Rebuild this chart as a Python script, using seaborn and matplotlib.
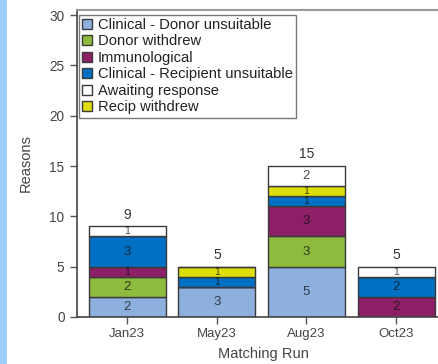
import matplotlib
matplotlib.use("Agg")
import matplotlib.pyplot as plt
from matplotlib.patches import Patch, Rectangle
import numpy as np
import pandas as pd
import seaborn as sns

# Matching runs and the reasons counted in each
runs = ["Jan23", "May23", "Aug23", "Oct23"]
donor_unsuitable = [2, 3, 5, 0]
donor_withdrew = [2, 0, 3, 0]
immunological = [1, 0, 3, 2]
recipient_unsuitable = [3, 1, 1, 2]
recip_withdrew = [0, 1, 1, 0]
awaiting_response = [1, 0, 2, 1]

# (label, values, colour) in stacking order, bottom to top
layers = [
    ("Clinical - Donor unsuitable", donor_unsuitable, "#8DB0DF"),
    ("Donor withdrew", donor_withdrew, "#8DBB3E"),
    ("Immunological", immunological, "#8C1F66"),
    ("Clinical - Recipient unsuitable", recipient_unsuitable, "#0070C4"),
    ("Recip withdrew", recip_withdrew, "#DEDE0A"),
    ("Awaiting response", awaiting_response, "#FFFFFF"),
]
legend_order = [
    "Clinical - Donor unsuitable",
    "Donor withdrew",
    "Immunological",
    "Clinical - Recipient unsuitable",
    "Awaiting response",
    "Recip withdrew",
]

sns.set_theme(style="white")
plt.rcParams["font.family"] = ["Liberation Sans", "DejaVu Sans"]

W, H = 438, 364
fig = plt.figure(figsize=(W / 100, H / 100), dpi=100)
fig.patch.set_facecolor("white")
# pale blue strip down the left edge of the panel
fig.patches.append(Rectangle((0, 0), 7 / W, 1, transform=fig.transFigure,
                             facecolor="#9DCFFD", edgecolor="none", zorder=0))

ax = fig.add_axes([77 / W, 47 / H, 372 / W, 307 / H])

edge = "#3a3a3a"
bottom = np.zeros(len(runs))
for label, vals, colour in layers:
    df = pd.DataFrame({"run": runs, "count": vals})
    sns.barplot(data=df, x="run", y="count", bottom=bottom, color=colour,
                saturation=1, width=0.86, edgecolor=edge, linewidth=1.0,
                errorbar=None, ax=ax)
    for i, v in enumerate(vals):
        if v > 0:
            ax.text(i, bottom[i] + v / 2, str(v), ha="center", va="center",
                    fontsize=9.5 if v > 1 else 7.5, color="#111111",
                    alpha=0.75, zorder=5)
    bottom = bottom + np.array(vals)

# totals above each bar
for i, t in enumerate(bottom):
    ax.text(i, t + 0.45, f"{int(t)}", ha="center", va="bottom",
            fontsize=10, color="#333333")

ax.set_xlim(-0.56, 3.59)
ax.set_ylim(0, 30.5)
ax.set_yticks([0, 5, 10, 15, 20, 25, 30])
ax.set_xlabel("Matching Run", fontsize=10.5, color="#444444", labelpad=5)
ax.set_ylabel("Reasons", fontsize=10.5, color="#444444", labelpad=12)
ax.tick_params(axis="both", which="both", direction="out", length=5, width=1,
               color="#555555", labelsize=9.8, labelcolor="#444444", pad=4,
               bottom=True, left=True)
ax.tick_params(axis="x", labelsize=9.5, pad=3)

for side in ["left", "bottom"]:
    ax.spines[side].set_color("#444444")
    ax.spines[side].set_linewidth(1.2)
ax.spines["top"].set_color("#9a9a9a")
ax.spines["top"].set_linewidth(1.5)
ax.spines["right"].set_visible(False)

colour_of = {lab: col for lab, _, col in layers}
handles = [Patch(facecolor=colour_of[lab], edgecolor=edge, linewidth=1.0, label=lab)
           for lab in legend_order]
leg = ax.legend(handles=handles, loc="upper left", bbox_to_anchor=(0.006, 0.985),
                fontsize=10.6, frameon=True, fancybox=False, handlelength=0.65,
                handleheight=0.65, handletextpad=0.4, labelspacing=0.17,
                borderpad=0.22, borderaxespad=0)
leg.get_frame().set_edgecolor("#555555")
leg.get_frame().set_linewidth(1.0)
for t in leg.get_texts():
    t.set_color("#222222")

fig.savefig("out.png", dpi=100)
